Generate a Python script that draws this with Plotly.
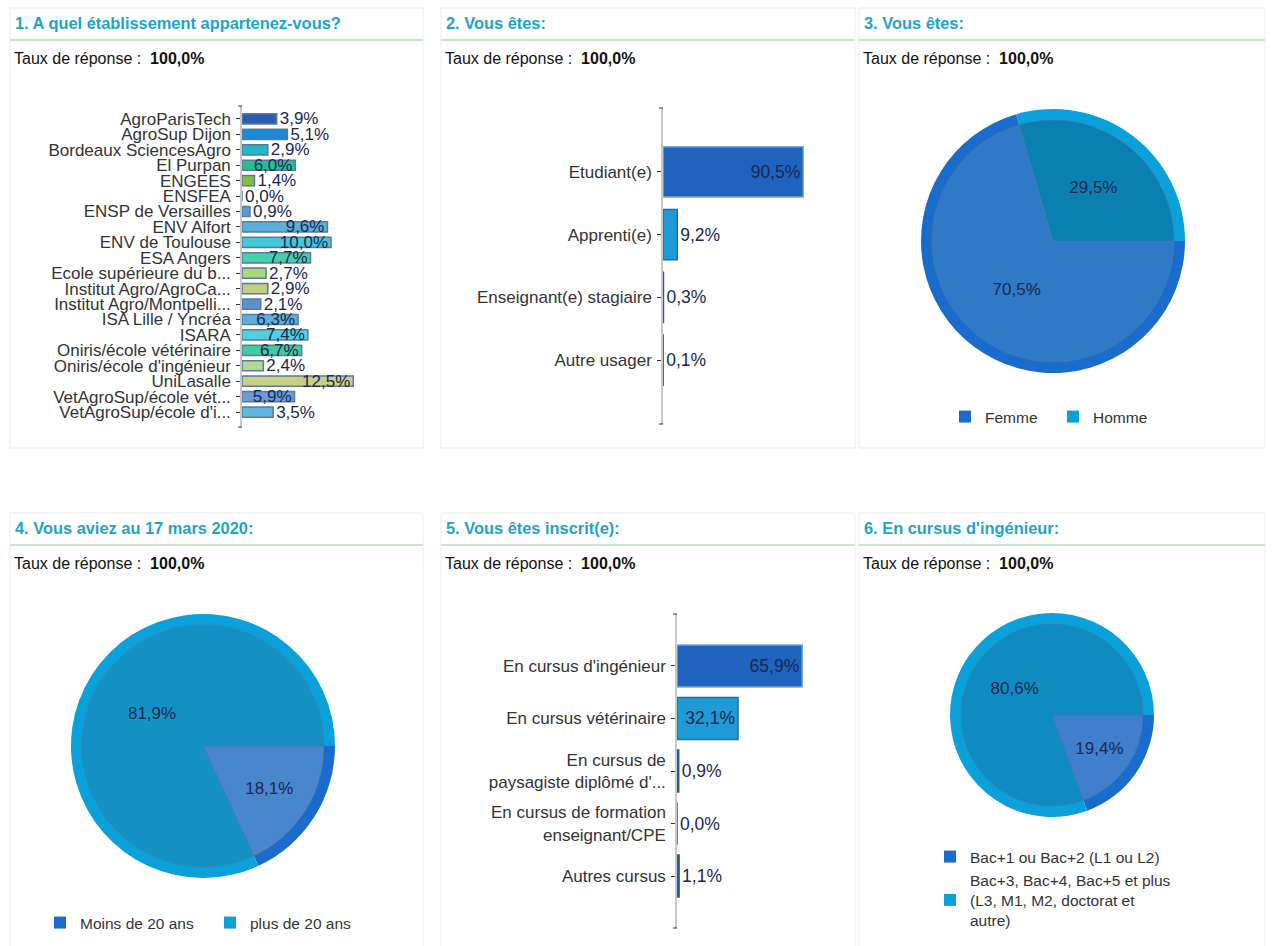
import plotly.graph_objects as go

W, H = 1273, 946

# ---------------- data ----------------
q1_labels = ["AgroParisTech", "AgroSup Dijon", "Bordeaux SciencesAgro", "El Purpan", "ENGEES",
             "ENSFEA", "ENSP de Versailles", "ENV Alfort", "ENV de Toulouse", "ESA Angers",
             "Ecole supérieure du b...", "Institut Agro/AgroCa...", "Institut Agro/Montpelli...",
             "ISA Lille / Yncréa", "ISARA", "Oniris/école vétérinaire", "Oniris/école d'ingénieur",
             "UniLasalle", "VetAgroSup/école vét...", "VetAgroSup/école d'i..."]
q1_values = [3.9, 5.1, 2.9, 6.0, 1.4, 0.0, 0.9, 9.6, 10.0, 7.7, 2.7, 2.9, 2.1, 6.3, 7.4, 6.7, 2.4, 12.5, 5.9, 3.5]
q1_colors = ["#2a5fb0", "#1a8ad6", "#22b8c8", "#22c090", "#80c040", "#80c040", "#5b9bd5", "#5ab0d8",
             "#44c8d8", "#44d0a8", "#a8d880", "#c0d080", "#5a90d0", "#5ab0d8", "#52d0e0", "#44c8a0",
             "#b0d890", "#c8d088", "#6a9ad8", "#60b8e0"]

q2_labels = ["Etudiant(e)", "Apprenti(e)", "Enseignant(e) stagiaire", "Autre usager"]
q2_values = [90.5, 9.2, 0.3, 0.1]
q2_colors = ["#1f63be", "#1e9bd7", "#2a5a9a", "#2a5a9a"]

q3_labels = ["Femme", "Homme"]
q3_values = [70.5, 29.5]

q4_labels = ["Moins de 20 ans", "plus de 20 ans"]
q4_values = [18.1, 81.9]

q5_labels = ["En cursus d'ingénieur", "En cursus vétérinaire",
             "En cursus de<br>paysagiste diplômé d'...", "En cursus de formation<br>enseignant/CPE",
             "Autres cursus"]
q5_values = [65.9, 32.1, 0.9, 0.0, 1.1]
q5_colors = ["#1f63be", "#1e9bd7", "#2a5a9a", "#2a5a9a", "#2a5a9a"]

q6_labels = ["Bac+1 ou Bac+2 (L1 ou L2)", "Bac+3, Bac+4, Bac+5 et plus<br>(L3, M1, M2, doctorat et<br>autre)"]
q6_values = [19.4, 80.6]

titles = ["1. A quel établissement appartenez-vous?", "2. Vous êtes:", "3. Vous êtes:",
          "4. Vous aviez au 17 mars 2020:", "5. Vous êtes inscrit(e):", "6. En cursus d'ingénieur:"]
response_rate = "100,0%"

# ---------------- helpers ----------------
FONT = "Liberation Sans, Arial, sans-serif"
TXT = "#1a2850"


def fx(x):
    return x / W


def fy(y):
    return 1 - y / H


def pct(v):
    return f"{v:.1f}%".replace(".", ",")


fig = go.Figure()


def add_bars(labels, values, colors, line_colors, ax, width, inside_thr, size):
    pos = ["inside" if v > inside_thr else "outside" for v in values]
    fig.add_trace(go.Bar(
        y=labels, x=values, orientation="h", width=width,
        marker=dict(color=colors, line=dict(color=line_colors, width=1.5)),
        text=[pct(v) for v in values], textposition=pos, insidetextanchor="end",
        textfont=dict(family=FONT, size=size, color=TXT), constraintext="none",
        cliponaxis=False, xaxis="x" + ax, yaxis="y" + ax, showlegend=False, hoverinfo="skip"))


add_bars(q1_labels, q1_values, q1_colors, "#5a7a9a", "", 0.66, 5.5, 17)
add_bars(q2_labels, q2_values, q2_colors, ["#7aa6dc", "#1a6fa8", "#2a5a9a", "#2a5a9a"], "2", 0.8, 50, 17.5)
add_bars(q5_labels, q5_values, q5_colors, ["#7aa6dc", "#1a6fa8", "#2a5a9a", "#2a5a9a", "#2a5a9a"], "3", 0.8, 20, 17.5)


def add_pie(labels, values, ring_colors, inner_colors, cx, cy, r, legend):
    ring = 11
    fig.add_trace(go.Pie(
        labels=labels, values=values, sort=False, direction="clockwise", rotation=90,
        marker=dict(colors=ring_colors, line=dict(width=0)), textinfo="none",
        domain=dict(x=[fx(cx - r), fx(cx + r)], y=[fy(cy + r), fy(cy - r)]),
        legend=legend, showlegend=True, hoverinfo="skip"))
    ri = r - ring
    fig.add_trace(go.Pie(
        labels=labels, values=values, sort=False, direction="clockwise", rotation=90,
        marker=dict(colors=inner_colors, line=dict(width=0.6, color="#4a78a8")),
        text=[pct(v) for v in values], textinfo="text", textposition="inside",
        insidetextorientation="horizontal",
        textfont=dict(family=FONT, size=17, color=TXT),
        domain=dict(x=[fx(cx - ri), fx(cx + ri)], y=[fy(cy + ri), fy(cy - ri)]),
        showlegend=False, hoverinfo="skip"))


add_pie(q3_labels, q3_values, ["#1a6ccc", "#0aa0da"], ["#3079c6", "#0a80b0"], 1053, 241, 132, "legend")
add_pie(q4_labels, q4_values, ["#1a6ccc", "#0aa0da"], ["#4a86cc", "#1492c4"], 203, 746, 132, "legend2")
add_pie(q6_labels, q6_values, ["#1a6ccc", "#0aa0da"], ["#3f7fcc", "#0f8cc0"], 1052, 715, 102, "legend3")

# ---------------- axes ----------------
cat_axis = dict(type="category", showline=True, linecolor="#c8c8c8", linewidth=1.5,
                ticks="outside", ticklen=4, tickcolor="#333", showgrid=False, zeroline=False,
                tickfont=dict(family=FONT, size=17, color="#333"), ticklabelstandoff=2,
                tickmode="array")
val_axis = dict(visible=False, showgrid=False, zeroline=False)

fig.update_layout(
    xaxis=dict(val_axis, domain=[fx(242), fx(242 + 8.9 * 20)], range=[0, 20], anchor="y"),
    yaxis=dict(cat_axis, domain=[fy(427), fy(106)], range=[19.97, -0.84], anchor="x",
               categoryorder="array", categoryarray=q1_labels, tickvals=q1_labels, ticktext=q1_labels,
               tickfont=dict(family=FONT, size=17, color="#333")),
    xaxis2=dict(val_axis, domain=[fx(663), fx(663 + 155)], range=[0, 100], anchor="y2"),
    yaxis2=dict(cat_axis, domain=[fy(424), fy(108)], range=[4.02, -1.02], anchor="x2",
                categoryorder="array", categoryarray=q2_labels, tickvals=q2_labels, ticktext=q2_labels),
    xaxis3=dict(val_axis, domain=[fx(677), fx(677 + 190)], range=[0, 100], anchor="y3"),
    yaxis3=dict(cat_axis, domain=[fy(928), fy(614)], range=[4.99, -0.99], anchor="x3",
                categoryorder="array", categoryarray=q5_labels, tickvals=q5_labels, ticktext=q5_labels),
)

# ---------------- panels ----------------
panels = [(10, 423, 8), (441, 855, 8), (859, 1265, 8), (10, 423, 513), (441, 855, 513), (859, 1265, 513)]
shapes = []
annotations = []
for (x0, x1, top), title in zip(panels, titles):
    shapes.append(dict(type="rect", xref="paper", yref="paper", x0=fx(x0), x1=fx(x1),
                       y0=fy(min(top + 440, H + 5)), y1=fy(top), line=dict(color="#ebebeb", width=1),
                       layer="below"))
    shapes.append(dict(type="line", xref="paper", yref="paper", x0=fx(x0), x1=fx(x1),
                       y0=fy(top + 32), y1=fy(top + 32), line=dict(color="#b3e3b3", width=1.5)))
    annotations.append(dict(text=f"<b>{title}</b>", x=fx(x0 + 3), y=fy(top + 15), xref="paper", yref="paper",
                            xanchor="left", yanchor="middle", showarrow=False,
                            font=dict(family=FONT, size=16.4, color="#1ea4c8")))
    annotations.append(dict(text=f"Taux de réponse :  <b>{response_rate}</b>", x=fx(x0 + 2), y=fy(top + 50),
                            xref="paper", yref="paper", xanchor="left", yanchor="middle", showarrow=False,
                            font=dict(family=FONT, size=16, color="#111")))

# small end ticks at both ends of the category axes
for ax, wpx in (("", 8.9 * 20), ("2", 155), ("3", 190)):
    for yy in (0, 1):
        shapes.append(dict(type="line", xref=f"x{ax} domain", yref=f"y{ax} domain",
                           x0=-4 / wpx, x1=0, y0=yy, y1=yy, line=dict(color="#333", width=1)))

legend_font = dict(family=FONT, size=15.5, color="#333")
fig.update_layout(
    width=W, height=H, margin=dict(l=0, r=0, t=0, b=0),
    paper_bgcolor="white", plot_bgcolor="white",
    shapes=shapes, annotations=annotations,
    legend=dict(x=fx(945), y=fy(417), xanchor="left", yanchor="middle", orientation="h",
                font=legend_font, bgcolor="rgba(0,0,0,0)", entrywidth=63, itemclick=False),
    legend2=dict(x=fx(40), y=fy(923), xanchor="left", yanchor="middle", orientation="h",
                 font=legend_font, bgcolor="rgba(0,0,0,0)", entrywidth=125, itemclick=False),
    legend3=dict(x=fx(930), y=fy(840), xanchor="left", yanchor="top", orientation="v",
                 font=dict(family=FONT, size=15.5, color="#333", lineposition="none"),
                 bgcolor="rgba(0,0,0,0)", tracegroupgap=0, itemclick=False),
)

fig.write_html("out.html")
